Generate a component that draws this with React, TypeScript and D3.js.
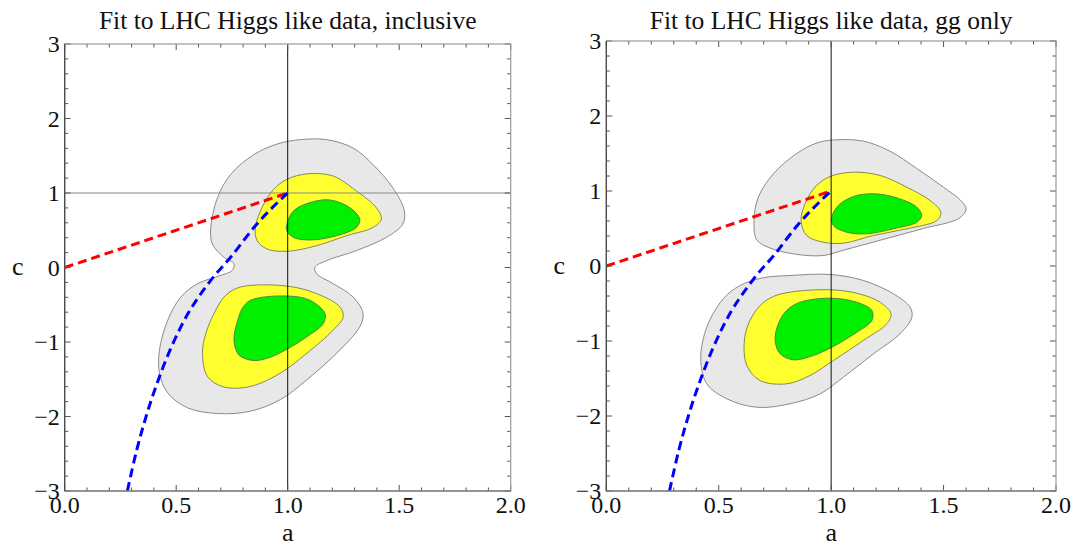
import React from "react";
import * as d3 from "d3";

type P = [number, number];

// ---------- data (a, c) ----------
const xTicksMajor = [0, 0.5, 1, 1.5, 2];
const xTickLabels = ["0.0", "0.5", "1.0", "1.5", "2.0"];
const yTicksMajor = [-3, -2, -1, 0, 1, 2, 3];
const yTickLabels = ["\u22123", "\u22122", "\u22121", "0", "1", "2", "3"];

const redLine: P[] = [[0, 0], [1, 1]];
const blueCurve: P[] = [
  [0.281, -3.0], [0.323, -2.45], [0.365, -2.0], [0.432, -1.41], [0.521, -0.796],
  [0.655, -0.173], [0.744, 0.137], [0.855, 0.56], [0.93, 0.8], [1.0, 1.0],
];

// left panel (inclusive)
const leftOuter: P[] = [
  [1.056, 1.716], [1.175, 1.716], [1.293, 1.604], [1.382, 1.383], [1.471, 1.071], [1.523, 0.76],
  [1.516, 0.583], [1.442, 0.404], [1.308, 0.227], [1.175, 0.093], [1.122, 0.004], [1.13, -0.084],
  [1.204, -0.217], [1.293, -0.396], [1.338, -0.617], [1.323, -0.796], [1.234, -1.107], [1.086, -1.507],
  [0.967, -1.773], [0.833, -1.929], [0.685, -1.96], [0.551, -1.884], [0.462, -1.684], [0.425, -1.417],
  [0.425, -1.107], [0.462, -0.707], [0.521, -0.396], [0.596, -0.217], [0.699, -0.107], [0.751, -0.04],
  [0.759, 0.049], [0.714, 0.137], [0.662, 0.316], [0.655, 0.537], [0.685, 0.937], [0.744, 1.249],
  [0.848, 1.516], [0.952, 1.657],
];
const leftUpperYellow: P[] = [
  [1.086, 1.257], [1.204, 1.227], [1.308, 1.027], [1.397, 0.804], [1.42, 0.649], [1.382, 0.537],
  [1.264, 0.427], [1.13, 0.293], [0.996, 0.217], [0.907, 0.249], [0.863, 0.36], [0.855, 0.537],
  [0.885, 0.804], [0.937, 1.049], [0.996, 1.182],
];
const leftUpperGreen: P[] = [
  [0.996, 0.582], [1.026, 0.76], [1.1, 0.871], [1.189, 0.907], [1.278, 0.804], [1.323, 0.649],
  [1.308, 0.537], [1.219, 0.427], [1.1, 0.369], [1.026, 0.404], [0.996, 0.493],
];
const leftLowerYellow: P[] = [
  [0.788, -0.262], [0.996, -0.249], [1.13, -0.351], [1.234, -0.529], [1.249, -0.662], [1.204, -0.84],
  [1.086, -1.151], [0.967, -1.418], [0.833, -1.596], [0.714, -1.604], [0.64, -1.462], [0.618, -1.151],
  [0.633, -0.884], [0.677, -0.573], [0.722, -0.373],
];
const leftLowerGreen: P[] = [
  [0.833, -0.44], [0.996, -0.382], [1.1, -0.44], [1.167, -0.618], [1.16, -0.751], [1.086, -0.929],
  [0.996, -1.098], [0.922, -1.204], [0.848, -1.249], [0.781, -1.173], [0.759, -0.973], [0.774, -0.729],
  [0.796, -0.551],
];

// right panel (gg only)
const rightUpperOuter: P[] = [
  [1.01, 1.68], [1.143, 1.665], [1.262, 1.53], [1.381, 1.3], [1.499, 1.051], [1.581, 0.86],
  [1.6, 0.75], [1.565, 0.63], [1.41, 0.5], [1.232, 0.355], [1.054, 0.21], [0.965, 0.14],
  [0.847, 0.155], [0.728, 0.24], [0.669, 0.35], [0.657, 0.607], [0.676, 0.917], [0.743, 1.229],
  [0.847, 1.5], [0.936, 1.64],
];
const rightUpperYellow: P[] = [
  [0.995, 1.193], [1.099, 1.251], [1.218, 1.207], [1.336, 1.051], [1.44, 0.873], [1.488, 0.717],
  [1.47, 0.607], [1.336, 0.496], [1.188, 0.407], [1.054, 0.304], [0.965, 0.317], [0.891, 0.407],
  [0.866, 0.607], [0.884, 0.829], [0.928, 1.051],
];
const rightUpperGreen: P[] = [
  [1.003, 0.651], [1.032, 0.807], [1.099, 0.927], [1.188, 0.963], [1.292, 0.909], [1.381, 0.784],
  [1.403, 0.673], [1.381, 0.584], [1.277, 0.496], [1.158, 0.429], [1.069, 0.451], [1.01, 0.54],
];
const rightLowerOuter: P[] = [
  [0.817, -0.127], [0.995, -0.113], [1.143, -0.193], [1.277, -0.371], [1.351, -0.549], [1.359, -0.683],
  [1.306, -0.904], [1.188, -1.171], [1.054, -1.483], [0.951, -1.704], [0.817, -1.837], [0.669, -1.883],
  [0.536, -1.771], [0.447, -1.571], [0.42, -1.237], [0.447, -0.816], [0.52, -0.437], [0.595, -0.26],
  [0.698, -0.157],
];
const rightLowerYellow: P[] = [
  [0.817, -0.349], [0.995, -0.317], [1.114, -0.363], [1.218, -0.483], [1.266, -0.637], [1.247, -0.771],
  [1.143, -0.993], [1.01, -1.26], [0.906, -1.46], [0.802, -1.571], [0.684, -1.527], [0.625, -1.327],
  [0.613, -1.037], [0.632, -0.771], [0.684, -0.527], [0.743, -0.407],
];
const rightLowerGreen: P[] = [
  [0.862, -0.483], [0.995, -0.429], [1.114, -0.483], [1.181, -0.593], [1.181, -0.727], [1.114, -0.883],
  [1.003, -1.083], [0.921, -1.193], [0.832, -1.251], [0.773, -1.171], [0.751, -0.993], [0.765, -0.771],
  [0.802, -0.593],
];

const titles = ["Fit to LHC Higgs like data, inclusive", "Fit to LHC Higgs like data, gg only"];
const xLabel = "a";
const yLabel = "c";

// ---------- layout ----------
const W = 1071;
const H = 547;
const FONT = "'Liberation Serif', 'Times New Roman', serif";

interface PanelCfg {
  title: string;
  x0: number; x1: number; y0: number; y1: number;
  grays: P[][]; yellows: P[][]; greens: P[][];
  hline: boolean;
}

const panels: PanelCfg[] = [
  {
    title: titles[0], x0: 64.7, x1: 510.7, y0: 44, y1: 491,
    grays: [leftOuter], yellows: [leftUpperYellow, leftLowerYellow], greens: [leftUpperGreen, leftLowerGreen],
    hline: true,
  },
  {
    title: titles[1], x0: 606.3, x1: 1056, y0: 41, y1: 491,
    grays: [rightUpperOuter, rightLowerOuter], yellows: [rightUpperYellow, rightLowerYellow], greens: [rightUpperGreen, rightLowerGreen],
    hline: false,
  },
];

function Panel({ cfg, idx }: { cfg: PanelCfg; idx: number }) {
  const x = d3.scaleLinear().domain([0, 2]).range([cfg.x0, cfg.x1]);
  const y = d3.scaleLinear().domain([-3, 3]).range([cfg.y1, cfg.y0]);
  const closed = d3.line<P>().x((d) => x(d[0])).y((d) => y(d[1])).curve(d3.curveCatmullRomClosed.alpha(0.5));
  const open = d3.line<P>().x((d) => x(d[0])).y((d) => y(d[1])).curve(d3.curveMonotoneX);
  const straight = d3.line<P>().x((d) => x(d[0])).y((d) => y(d[1]));
  const clipId = `clip${idx}`;

  const xMinor = d3.range(0, 2.0001, 0.1).map((v) => +v.toFixed(2));
  const yMinor = d3.range(-3, 3.0001, 0.2).map((v) => +v.toFixed(2));
  const isMajorX = (v: number) => Math.abs(v * 2 - Math.round(v * 2)) < 1e-6;
  const isMajorY = (v: number) => Math.abs(v - Math.round(v)) < 1e-6;
  const tickColor = "#555";
  const majLen = 6;
  const minLen = 3.5;
  const cx = (cfg.x0 + cfg.x1) / 2;
  const cy = (cfg.y0 + cfg.y1) / 2;

  return (
    <g>
      <defs>
        <clipPath id={clipId}>
          <rect x={cfg.x0} y={cfg.y0} width={cfg.x1 - cfg.x0} height={cfg.y1 - cfg.y0} />
        </clipPath>
      </defs>
      <g clipPath={`url(#${clipId})`}>
        {cfg.grays.map((d, i) => (
          <path key={"g" + i} d={closed(d) || ""} fill="#e8e8e8" stroke="#8a8a8a" strokeWidth={1} />
        ))}
        {cfg.yellows.map((d, i) => (
          <path key={"y" + i} d={closed(d) || ""} fill="#ffff30" stroke="#7a7a55" strokeWidth={0.9} />
        ))}
        {cfg.greens.map((d, i) => (
          <path key={"gr" + i} d={closed(d) || ""} fill="#00f000" stroke="#4a7a4a" strokeWidth={0.9} />
        ))}
        <line x1={x(1)} x2={x(1)} y1={cfg.y0} y2={cfg.y1} stroke="#111" strokeWidth={1} />
        {cfg.hline && (
          <line x1={cfg.x0} x2={cfg.x1} y1={y(1)} y2={y(1)} stroke="#888" strokeWidth={1} />
        )}
        <path d={straight(redLine) || ""} fill="none" stroke="#ff0000" strokeWidth={3} strokeDasharray="9,5" />
        <path d={open(blueCurve) || ""} fill="none" stroke="#0000ff" strokeWidth={3} strokeDasharray="9,5" />
      </g>
      {/* ticks */}
      {xMinor.map((v) => {
        const L = isMajorX(v) ? majLen : minLen;
        return (
          <g key={"xt" + v}>
            <line x1={x(v)} x2={x(v)} y1={cfg.y1} y2={cfg.y1 - L} stroke={tickColor} strokeWidth={1} />
            <line x1={x(v)} x2={x(v)} y1={cfg.y0} y2={cfg.y0 + L} stroke={tickColor} strokeWidth={1} />
          </g>
        );
      })}
      {yMinor.map((v) => {
        const L = isMajorY(v) ? majLen : minLen;
        return (
          <g key={"yt" + v}>
            <line x1={cfg.x0} x2={cfg.x0 + L} y1={y(v)} y2={y(v)} stroke={tickColor} strokeWidth={1} />
            <line x1={cfg.x1} x2={cfg.x1 - L} y1={y(v)} y2={y(v)} stroke={tickColor} strokeWidth={1} />
          </g>
        );
      })}
      {/* frame */}
      <rect x={cfg.x0} y={cfg.y0} width={cfg.x1 - cfg.x0} height={cfg.y1 - cfg.y0} fill="none" stroke="#999" strokeWidth={1.2} />
      <line x1={cfg.x0} x2={cfg.x0} y1={cfg.y0} y2={cfg.y1} stroke="#444" strokeWidth={1.2} />
      <line x1={cfg.x0} x2={cfg.x1} y1={cfg.y1} y2={cfg.y1} stroke="#666" strokeWidth={1.2} />
      {/* tick labels */}
      {xTicksMajor.map((v, i) => (
        <text key={"xl" + v} x={x(v)} y={cfg.y1 + 22} textAnchor="middle" fontFamily={FONT} fontSize={24} fill="#111">
          {xTickLabels[i]}
        </text>
      ))}
      {yTicksMajor.map((v, i) => (
        <text key={"yl" + v} x={cfg.x0 - 5} y={y(v)} dy="0.35em" textAnchor="end" fontFamily={FONT} fontSize={24} fill="#111">
          {yTickLabels[i]}
        </text>
      ))}
      {/* axis labels */}
      <text x={cx} y={541} textAnchor="middle" fontFamily={FONT} fontSize={26} fill="#111">{xLabel}</text>
      <text x={cfg.x0 - 47} y={cy} dy="0.3em" textAnchor="middle" fontFamily={FONT} fontSize={26} fill="#111">{yLabel}</text>
      {/* title */}
      <text x={cx} y={29} textAnchor="middle" fontFamily={FONT} fontSize={25.5} fill="#111">{cfg.title}</text>
    </g>
  );
}

export default function App() {
  return (
    <svg width={W} height={H} style={{ position: "absolute", left: 0, top: 0, background: "#fff" }}>
      <rect x={0} y={0} width={W} height={H} fill="#fff" />
      {panels.map((p, i) => (
        <Panel key={i} cfg={p} idx={i} />
      ))}
    </svg>
  );
}
